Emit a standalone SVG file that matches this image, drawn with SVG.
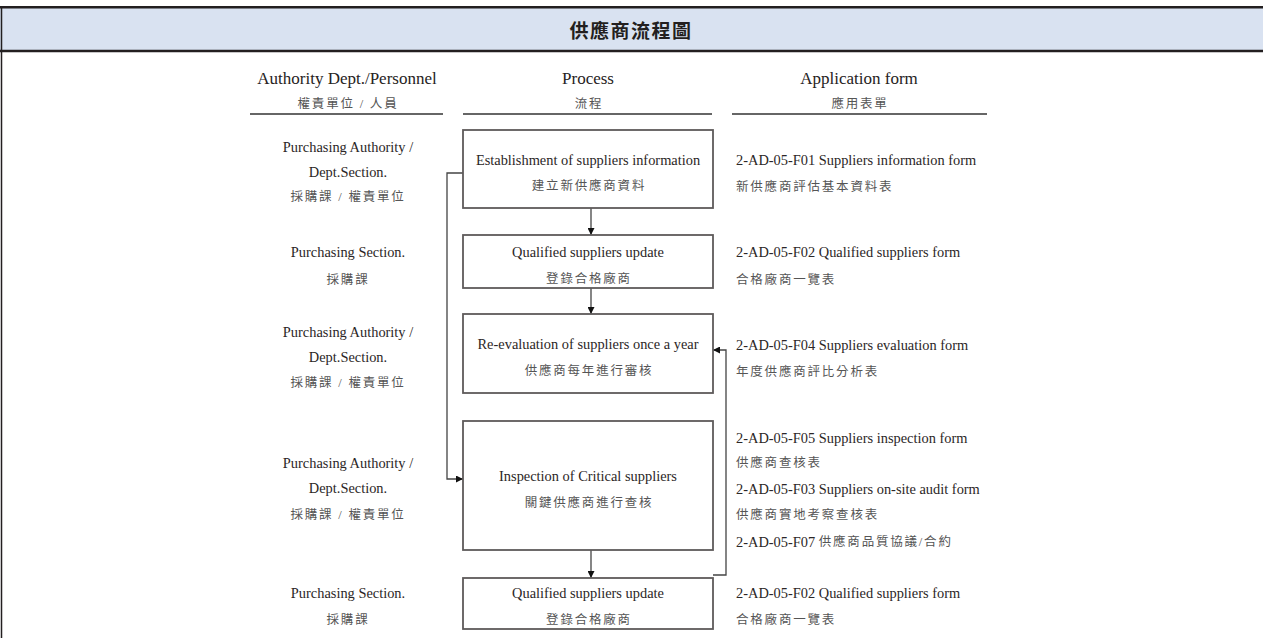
<svg xmlns="http://www.w3.org/2000/svg" width="1263" height="638" viewBox="0 0 1263 638">
<style>
.en{font-family:"Liberation Serif","Times New Roman",serif;font-size:14.4px;fill:#2b2626;dominant-baseline:central}
.hd{font-family:"Liberation Serif","Times New Roman",serif;font-size:17px;fill:#262222;dominant-baseline:central;text-anchor:middle}
.zh{font-family:"Liberation Serif","Noto Sans CJK TC",serif;font-size:12.5px;letter-spacing:1.8px;fill:#555;dominant-baseline:central}
.c{text-anchor:middle}
.box{fill:#fff;stroke:#5e5a5a;stroke-width:1.8}
.ul{stroke:#333;stroke-width:1.6}
.con{fill:none;stroke:#444;stroke-width:1.3}
</style>
<defs>
<marker id="ah" viewBox="0 0 10 10" refX="10" refY="5" markerWidth="7" markerHeight="7" markerUnits="userSpaceOnUse" orient="auto">
<path d="M0,0 L10,5 L0,10 z" fill="#111"/>
</marker>
</defs>
<rect x="0" y="0" width="1263" height="638" fill="#fff"/>
<g id="frame">
<rect x="0" y="8" width="1263" height="42" fill="#d9e2f1"/>
<line x1="0" y1="7.2" x2="1263" y2="7.2" stroke="#231f20" stroke-width="2.4"/>
<line x1="0" y1="51" x2="1263" y2="51" stroke="#231f20" stroke-width="2.4"/>
<line x1="1.5" y1="7" x2="1.5" y2="638" stroke="#231f20" stroke-width="1.5"/>
<text x="631" y="29" text-anchor="middle" dominant-baseline="central" font-family="Noto Sans CJK TC, sans-serif" font-weight="bold" font-size="19" letter-spacing="1.5" fill="#231f20">供應商流程圖</text>
</g>
<g id="headers">
<text class="hd" x="347" y="78">Authority Dept./Personnel</text>
<text class="zh c" x="348" y="104">權責單位 / 人員</text>
<line class="ul" x1="250" y1="114" x2="443" y2="114"/>
<text class="hd" x="588" y="78">Process</text>
<text class="zh c" x="589" y="104">流程</text>
<line class="ul" x1="463" y1="114" x2="712" y2="114"/>
<text class="hd" x="859" y="78">Application form</text>
<text class="zh c" x="860" y="104">應用表單</text>
<line class="ul" x1="732" y1="114" x2="987" y2="114"/>
</g>
<g id="roles">
<text class="en c" x="348" y="147">Purchasing Authority /</text>
<text class="en c" x="348" y="172">Dept.Section.</text>
<text class="zh c" x="348" y="197">採購課 / 權責單位</text>
<text class="en c" x="348" y="252">Purchasing Section.</text>
<text class="zh c" x="348" y="280">採購課</text>
<text class="en c" x="348" y="332">Purchasing Authority /</text>
<text class="en c" x="348" y="357">Dept.Section.</text>
<text class="zh c" x="348" y="383">採購課 / 權責單位</text>
<text class="en c" x="348" y="463">Purchasing Authority /</text>
<text class="en c" x="348" y="488">Dept.Section.</text>
<text class="zh c" x="348" y="515">採購課 / 權責單位</text>
<text class="en c" x="348" y="593">Purchasing Section.</text>
<text class="zh c" x="348" y="620">採購課</text>
</g>
<g id="connectors">
<line class="con" x1="591" y1="208" x2="591" y2="235" marker-end="url(#ah)"/>
<line class="con" x1="591" y1="288" x2="591" y2="314" marker-end="url(#ah)"/>
<line class="con" x1="591" y1="550" x2="591" y2="578" marker-end="url(#ah)"/>
<path class="con" d="M463,173 H447 V479 H463" marker-end="url(#ah)"/>
<path class="con" d="M713,575 H726 V350 H713" marker-end="url(#ah)"/>
</g>
<g id="node1">
<rect class="box" x="463" y="130" width="250" height="78"/>
<text class="en c" x="588" y="160">Establishment of suppliers information</text>
<text class="zh c" x="589" y="186">建立新供應商資料</text>
</g>
<g id="node2">
<rect class="box" x="463" y="235" width="250" height="53"/>
<text class="en c" x="588" y="252">Qualified suppliers update</text>
<text class="zh c" x="589" y="279">登錄合格廠商</text>
</g>
<g id="node3">
<rect class="box" x="463" y="314" width="250" height="79"/>
<text class="en c" x="588" y="344">Re-evaluation of suppliers once a year</text>
<text class="zh c" x="589" y="371">供應商每年進行審核</text>
</g>
<g id="node4">
<rect class="box" x="463" y="421" width="250" height="129"/>
<text class="en c" x="588" y="476">Inspection of Critical suppliers</text>
<text class="zh c" x="589" y="503">關鍵供應商進行查核</text>
</g>
<g id="node5">
<rect class="box" x="463" y="578" width="250" height="51"/>
<text class="en c" x="588" y="593">Qualified suppliers update</text>
<text class="zh c" x="589" y="620">登錄合格廠商</text>
</g>
<g id="forms">
<text class="en" x="736" y="160">2-AD-05-F01 Suppliers information form</text>
<text class="zh" x="736" y="187">新供應商評估基本資料表</text>
<text class="en" x="736" y="252">2-AD-05-F02 Qualified suppliers form</text>
<text class="zh" x="736" y="280">合格廠商一覽表</text>
<text class="en" x="736" y="345">2-AD-05-F04 Suppliers evaluation form</text>
<text class="zh" x="736" y="372">年度供應商評比分析表</text>
<text class="en" x="736" y="438">2-AD-05-F05 Suppliers inspection form</text>
<text class="zh" x="736" y="463">供應商查核表</text>
<text class="en" x="736" y="489">2-AD-05-F03 Suppliers on-site audit form</text>
<text class="zh" x="736" y="515">供應商實地考察查核表</text>
<text class="en" x="736" y="542">2-AD-05-F07 <tspan class="zh" style="font-size:12.5px">供應商品質協議/合約</tspan></text>
<text class="en" x="736" y="593">2-AD-05-F02 Qualified suppliers form</text>
<text class="zh" x="736" y="620">合格廠商一覽表</text>
</g>
</svg>
